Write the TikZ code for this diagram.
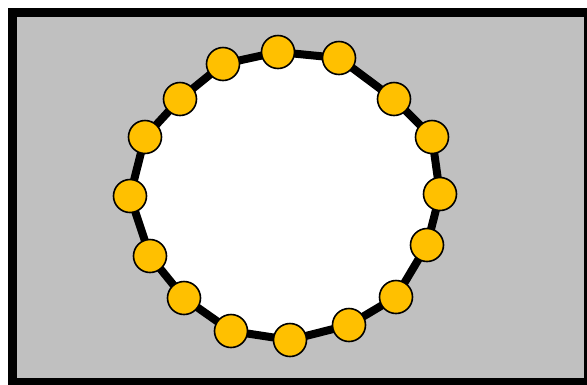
\documentclass[tikz,border=0pt]{standalone}
\definecolor{bggray}{HTML}{C0C0C0}
\definecolor{beadyellow}{HTML}{FFC000}
\tikzset{
  bead/.style={circle, draw=black, line width=1.6pt, fill=beadyellow, minimum size=33pt, inner sep=0pt},
  ringedge/.style={draw=black, line width=8pt},
  frame/.style={draw=black, line width=9pt, fill=bggray}
}
\begin{document}
\begin{tikzpicture}[x=1pt, y=-1pt]
\useasboundingbox (0,0) rectangle (587,384);
\begin{scope}
\clip (0,0) rectangle (587,384);
\draw[frame] (12.5,12.5) rectangle (588,382.5);
\end{scope}
\foreach \n/\x/\y in {1/278/52, 2/339/58, 3/394/99, 4/432/137, 5/440/194, 6/427/245, 7/396/297, 8/349/325, 9/290/340, 10/231/331, 11/184/298, 12/150/256, 13/130/196, 14/145/137, 15/180/99, 16/223/64} {
  \coordinate (c\n) at (\x,\y);
}
\fill[white] (c1) \foreach \n in {2,...,16} {-- (c\n)} -- cycle;
\foreach \a/\b in {1/2,2/3,3/4,4/5,5/6,6/7,7/8,8/9,9/10,10/11,11/12,12/13,13/14,14/15,15/16,16/1} {
  \draw[ringedge] (c\a) -- (c\b);
}
\foreach \n in {1,...,16} {
  \node[bead] (b\n) at (c\n) {};
}
\end{tikzpicture}
\end{document}
